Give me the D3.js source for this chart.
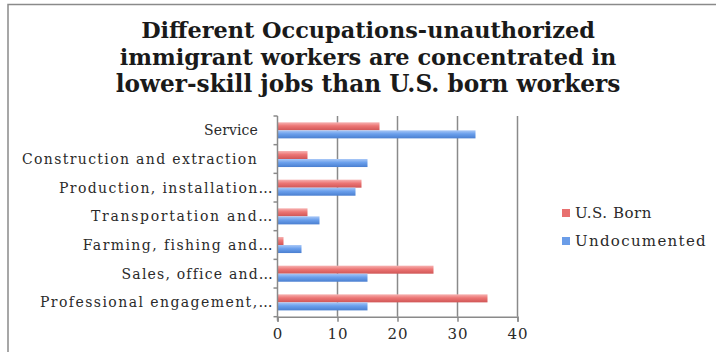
<!DOCTYPE html>
<html><head><meta charset="utf-8">
<script src="https://cdn.jsdelivr.net/npm/d3@7"></script>
<style>html,body{margin:0;padding:0;background:#fff;overflow:hidden}</style>
</head><body>
<svg id="c" width="716" height="352"></svg>
<script>
const categories = ["Service","Construction and extraction","Production, installation…","Transportation and…","Farming, fishing and…","Sales, office and…","Professional engagement,…"];
const usBorn = [17,5,14,5,1,26,35];
const undocumented = [33,15,13,7,4,15,15];
const seriesNames = ["U.S. Born","Undocumented"];
const xTicks = [0,10,20,30,40];
const titleLines = ["Different Occupations-unauthorized","immigrant workers are concentrated in","lower-skill jobs than U.S. born workers"];

const svg = d3.select("#c");
const defs = svg.append("defs");
function grad(id, stops){
  const g = defs.append("linearGradient").attr("id",id).attr("x1",0).attr("y1",0).attr("x2",0).attr("y2",1);
  stops.forEach(s=>g.append("stop").attr("offset",s[0]).attr("stop-color",s[1]));
}
grad("gRed",[[0,"#f7b3b2"],[0.45,"#ec7574"],[1,"#d05656"]]);
grad("gBlue",[[0,"#a9c8f7"],[0.45,"#6a9fec"],[1,"#4a7fd0"]]);
const fills = ["url(#gRed)","url(#gBlue)"];
const legendFills = ["#e8706f","#6b9de8"];

function fit(tx, target){
  const w = tx.node().getComputedTextLength();
  const n = tx.text().length;
  tx.attr("letter-spacing",(target-w)/n);
}

// frame
svg.append("rect").attr("x",8).attr("y",4.5).attr("width",720).attr("height",360)
  .attr("fill","none").attr("stroke","#8a8a8a").attr("stroke-width",1.5);

const serif = "'DejaVu Serif', 'Liberation Serif', serif";
// title
const titleW = [454,497,505];
titleLines.forEach((t,i)=>{
  const tx = svg.append("text").attr("x",368).attr("y",38+i*27).attr("text-anchor","middle")
    .attr("font-family",serif).attr("font-weight","bold").attr("font-size",22).attr("fill","#1a1a1a").text(t);
  const w = tx.node().getComputedTextLength();
  tx.attr("font-size",22*titleW[i]/w);
});

const m = {left:277.5, right:517.5, top:116, bottom:316.7};
const x = d3.scaleLinear().domain([0,40]).range([m.left,m.right]);
const y = d3.scaleBand().domain(categories).range([m.top,m.bottom]).paddingInner(0.44).paddingOuter(0.22);
const ySub = d3.scaleBand().domain(seriesNames).range([0,y.bandwidth()]);

// gridlines
svg.append("g").selectAll("line").data(xTicks.slice(1)).join("line")
  .attr("x1",d=>x(d)).attr("x2",d=>x(d)).attr("y1",m.top).attr("y2",m.bottom)
  .attr("stroke","#8a8a8a").attr("stroke-width",1.5);

// bars
const rows = categories.map((c,i)=>({c, vals:[usBorn[i],undocumented[i]]}));
const g = svg.append("g").selectAll("g").data(rows).join("g")
  .attr("transform",d=>`translate(0,${y(d.c)})`);
g.selectAll("rect").data(d=>d.vals.map((v,j)=>({v,j}))).join("rect")
  .attr("x",x(0)).attr("y",d=>ySub(seriesNames[d.j]))
  .attr("width",d=>x(d.v)-x(0)).attr("height",ySub.bandwidth())
  .attr("fill",d=>fills[d.j]);

// x axis
const xAxis = d3.axisBottom(x).tickValues(xTicks).tickSize(5).tickPadding(7);
const xg = svg.append("g").attr("transform",`translate(0,${m.bottom})`).call(xAxis);
xg.select(".domain").attr("stroke","#8a8a8a").attr("stroke-width",1.5);
xg.selectAll(".tick line").attr("stroke","#8a8a8a").attr("stroke-width",1.5);
xg.selectAll(".tick text").attr("font-family",serif).attr("font-size",15).attr("fill","#2a2a2a")
  .attr("letter-spacing",1);

// y axis: line + ticks at band boundaries
const step = (m.bottom-m.top)/categories.length;
svg.append("line").attr("x1",m.left).attr("x2",m.left).attr("y1",m.top).attr("y2",m.bottom+4)
  .attr("stroke","#8a8a8a").attr("stroke-width",1.5);
svg.append("g").selectAll("line").data(d3.range(categories.length+1)).join("line")
  .attr("x1",m.left-4).attr("x2",m.left).attr("y1",i=>m.top+i*step).attr("y2",i=>m.top+i*step)
  .attr("stroke","#8a8a8a").attr("stroke-width",1.5);

// category labels
const labW = {"Service":54,"Construction and extraction":236,"Production, installation…":215,"Transportation and…":183,"Farming, fishing and…":191,"Sales, office and…":152,"Professional engagement,…":234};
categories.forEach(c=>{
  const ell = c.endsWith("…");
  const tx = svg.append("text").attr("x",ell?274:258).attr("y",y(c)+y.bandwidth()/2+5)
    .attr("text-anchor","end").attr("font-family",serif).attr("font-size",14).attr("fill","#2a2a2a").text(c);
  fit(tx, labW[c]);
});

// legend
const legW = [77,132];
seriesNames.forEach((s,i)=>{
  const ly = 213+i*28;
  svg.append("rect").attr("x",562).attr("y",ly-4).attr("width",8).attr("height",8).attr("fill",legendFills[i]);
  const tx = svg.append("text").attr("x",575).attr("y",ly+5).attr("font-family",serif).attr("font-size",15)
    .attr("fill","#2a2a2a").text(s);
  fit(tx, legW[i]);
});
</script>
</body></html>
